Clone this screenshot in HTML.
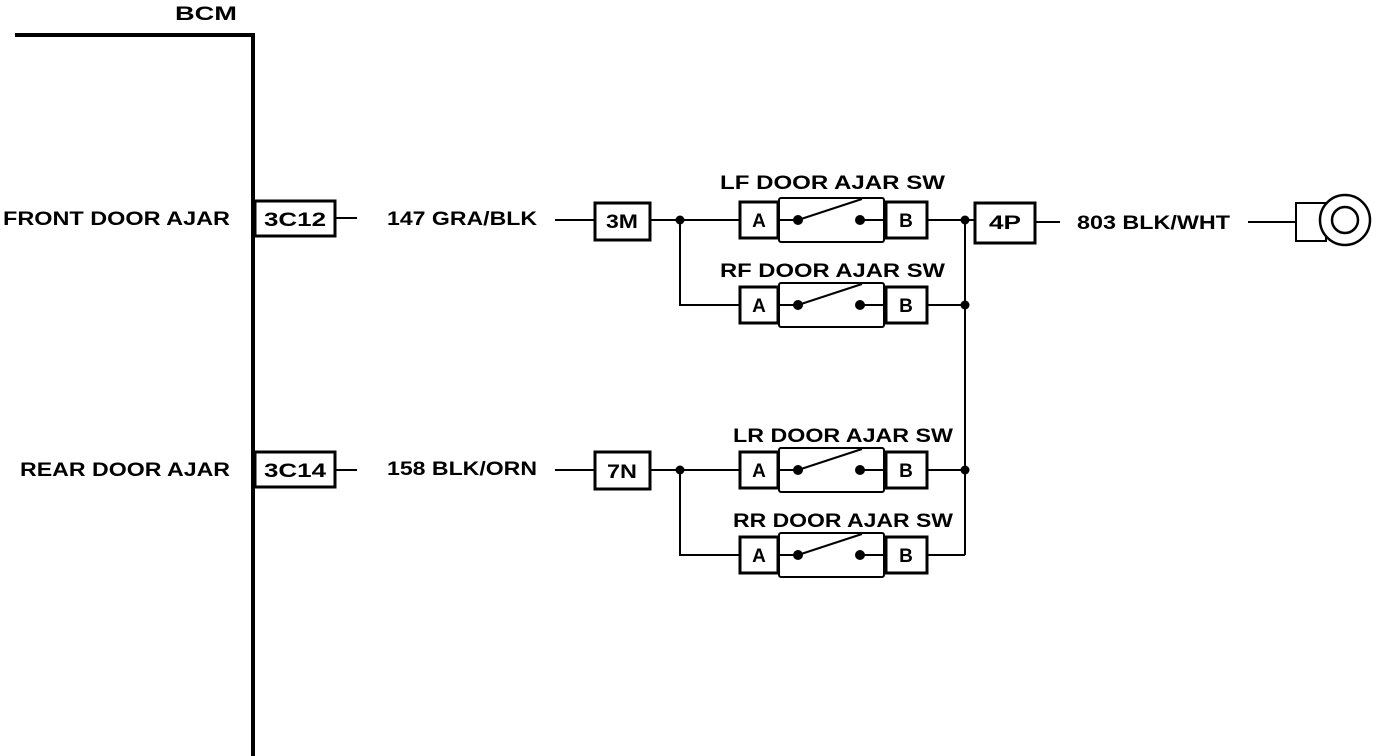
<!DOCTYPE html>
<html><head><meta charset="utf-8"><style>
html,body{margin:0;padding:0;background:#fff;}
svg{display:block;}
text{font-family:"Liberation Sans",sans-serif;font-size:19px;fill:#000;font-weight:bold;}
</style></head><body>
<svg width="1392" height="756" viewBox="0 0 1392 756" xmlns="http://www.w3.org/2000/svg">
<g stroke="#000" fill="none">
<path d="M15 35 H253 V756" stroke-width="4"/>
<rect x="255" y="201" width="80" height="35" stroke-width="3"/>
<line x1="335" y1="218" x2="357" y2="218" stroke-width="2"/>
<line x1="555" y1="220" x2="595" y2="220" stroke-width="2"/>
<rect x="595" y="203" width="55" height="37" stroke-width="3"/>
<line x1="650" y1="220" x2="740" y2="220" stroke-width="2"/>
<path d="M680 220 V305 H740" stroke-width="2"/>
<rect x="255" y="452" width="80" height="35" stroke-width="3"/>
<line x1="335" y1="470" x2="357" y2="470" stroke-width="2"/>
<line x1="555" y1="470" x2="595" y2="470" stroke-width="2"/>
<rect x="595" y="452" width="55" height="37" stroke-width="3"/>
<line x1="650" y1="470" x2="740" y2="470" stroke-width="2"/>
<path d="M680 470 V555 H740" stroke-width="2"/>
<line x1="965" y1="220" x2="965" y2="555" stroke-width="2"/>
<line x1="928" y1="220" x2="975" y2="220" stroke-width="2"/>
<line x1="928" y1="305" x2="965" y2="305" stroke-width="2"/>
<line x1="928" y1="470" x2="965" y2="470" stroke-width="2"/>
<line x1="928" y1="555" x2="965" y2="555" stroke-width="2"/>
<rect x="975" y="203" width="60" height="40" stroke-width="3"/>
<line x1="1035" y1="222" x2="1060" y2="222" stroke-width="2"/>
<line x1="1248" y1="222" x2="1296" y2="222" stroke-width="2"/>
<rect x="1296" y="203" width="30" height="38" stroke-width="2" fill="#fff"/>
<circle cx="1345" cy="220" r="25" stroke-width="2.5" fill="#fff"/>
<circle cx="1345" cy="220" r="13" stroke-width="2.5"/>
</g>
<g fill="#000">
<circle cx="680" cy="220" r="4.5"/><circle cx="965" cy="220" r="4.5"/><circle cx="965" cy="305" r="4.5"/>
<circle cx="680" cy="470" r="4.5"/><circle cx="965" cy="470" r="4.5"/>
</g>
<defs>
<g id="sw">
<rect x="779" y="-22" width="105" height="44" rx="2" fill="none" stroke="#000" stroke-width="2"/>
<rect x="740" y="-18" width="38" height="36" fill="#fff" stroke="#000" stroke-width="3"/>
<rect x="886" y="-18" width="41" height="36" fill="#fff" stroke="#000" stroke-width="3"/>
<line x1="778" y1="0" x2="798" y2="0" stroke="#000" stroke-width="2"/>
<line x1="860" y1="0" x2="886" y2="0" stroke="#000" stroke-width="2"/>
<line x1="798" y1="0" x2="862" y2="-21" stroke="#000" stroke-width="2"/>
<circle cx="798" cy="0" r="5" fill="#000"/>
<circle cx="860" cy="0" r="5" fill="#000"/>
<text x="759" y="7" text-anchor="middle">A</text>
<text x="906" y="7" text-anchor="middle">B</text>
</g>
</defs>
<use href="#sw" y="220"/>
<use href="#sw" y="305"/>
<use href="#sw" y="470"/>
<use href="#sw" y="555"/>
<g lengthAdjust="spacingAndGlyphs">
<text x="175" y="20" textLength="62" lengthAdjust="spacingAndGlyphs">BCM</text>
<text x="3" y="225" textLength="227" lengthAdjust="spacingAndGlyphs">FRONT DOOR AJAR</text>
<text x="20" y="476" textLength="210" lengthAdjust="spacingAndGlyphs">REAR DOOR AJAR</text>
<text x="264" y="226" textLength="62" lengthAdjust="spacingAndGlyphs">3C12</text>
<text x="264" y="477" textLength="62" lengthAdjust="spacingAndGlyphs">3C14</text>
<text x="387" y="225" textLength="150" lengthAdjust="spacingAndGlyphs">147 GRA/BLK</text>
<text x="387" y="475" textLength="150" lengthAdjust="spacingAndGlyphs">158 BLK/ORN</text>
<text x="606" y="228" textLength="32" lengthAdjust="spacingAndGlyphs">3M</text>
<text x="607" y="478" textLength="30" lengthAdjust="spacingAndGlyphs">7N</text>
<text x="989" y="229" textLength="32" lengthAdjust="spacingAndGlyphs">4P</text>
<text x="1077" y="229" textLength="153" lengthAdjust="spacingAndGlyphs">803 BLK/WHT</text>
<text x="720" y="189" textLength="225" lengthAdjust="spacingAndGlyphs">LF DOOR AJAR SW</text>
<text x="720" y="277" textLength="225" lengthAdjust="spacingAndGlyphs">RF DOOR AJAR SW</text>
<text x="733" y="442" textLength="220" lengthAdjust="spacingAndGlyphs">LR DOOR AJAR SW</text>
<text x="733" y="527" textLength="220" lengthAdjust="spacingAndGlyphs">RR DOOR AJAR SW</text>
</g>
</svg>
</body></html>
